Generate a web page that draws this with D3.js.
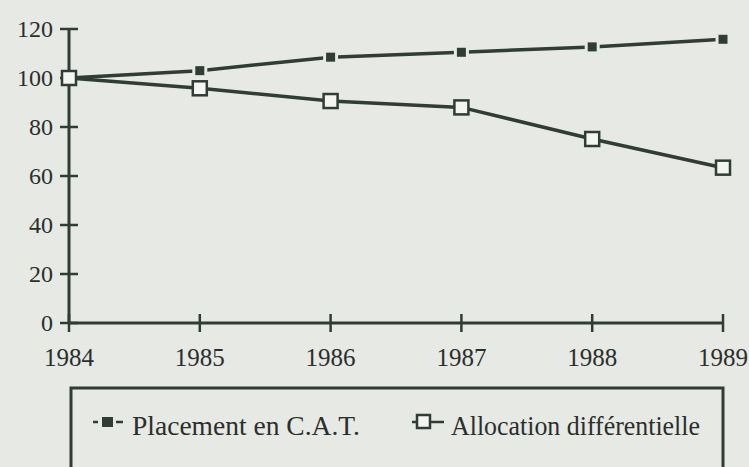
<!DOCTYPE html>
<html>
<head>
<meta charset="utf-8">
<script src="https://cdn.jsdelivr.net/npm/d3@7"></script>
<style>
  html, body { margin: 0; padding: 0; background: #e6e9e4; }
  #canvas { width: 749px; height: 467px; }
  text { font-family: "Liberation Serif", "Times New Roman", Times, serif; fill: #2b2f2c; }
</style>
</head>
<body>
<div id="canvas"></div>
<script>
const years = [1984, 1985, 1986, 1987, 1988, 1989];
const placement = [100, 103, 108.5, 110.5, 112.7, 115.8];
const allocation = [100, 95.8, 90.6, 88, 75.1, 63.4];
const yTicks = [0, 20, 40, 60, 80, 100, 120];
const seriesNames = ["Placement en C.A.T.", "Allocation différentielle"];

const w = 749, h = 467;
const ink = "#2f3d36";
const bg = "#e6e9e4";
const paper = "#f4f5f2";

let svg = d3.select("#canvas")
            .append("svg")
                .attr("width", w)
                .attr("height", h)
                .attr("viewBox", [0, 0, w, h]);

let x = d3.scaleLinear().domain([1984, 1989]).range([69, 723]);
let y = d3.scaleLinear().domain([0, 120]).range([323, 29]);

// y axis
let gY = svg.append("g");
gY.append("line")
    .attr("x1", x(1984)).attr("x2", x(1984))
    .attr("y1", y(120)).attr("y2", y(0))
    .attr("stroke", ink).attr("stroke-width", 3);
gY.selectAll(".yt")
    .data(yTicks)
  .enter().append("line")
    .attr("x1", x(1984) - 9).attr("x2", x(1984) + 9)
    .attr("y1", d => y(d)).attr("y2", d => y(d))
    .attr("stroke", ink).attr("stroke-width", 2.5);
gY.selectAll("text")
    .data(yTicks)
  .enter().append("text")
    .attr("x", x(1984) - 16)
    .attr("y", d => y(d))
    .attr("dy", "0.33em")
    .attr("text-anchor", "end")
    .attr("font-size", 24)
    .text(d => d);

// x axis
let gX = svg.append("g");
gX.append("line")
    .attr("x1", x(1984)).attr("x2", x(1989))
    .attr("y1", y(0)).attr("y2", y(0))
    .attr("stroke", ink).attr("stroke-width", 3);
gX.selectAll(".xt")
    .data(years)
  .enter().append("line")
    .attr("x1", d => x(d)).attr("x2", d => x(d))
    .attr("y1", y(0) - 9).attr("y2", y(0) + 9)
    .attr("stroke", ink).attr("stroke-width", 2.5);
gX.selectAll("text")
    .data(years)
  .enter().append("text")
    .attr("x", d => x(d))
    .attr("y", 366)
    .attr("text-anchor", "middle")
    .attr("font-size", 25)
    .text(d => d);

let line = d3.line()
    .x((d, i) => x(years[i]))
    .y(d => y(d));

// lines
svg.append("path")
    .datum(placement)
    .attr("d", line)
    .attr("fill", "none")
    .attr("stroke", ink)
    .attr("stroke-width", 3.5);
svg.append("path")
    .datum(allocation)
    .attr("d", line)
    .attr("fill", "none")
    .attr("stroke", ink)
    .attr("stroke-width", 3.5);

// filled markers with small gap around them
svg.selectAll(".pm")
    .data(placement)
  .enter().append("rect")
    .attr("x", (d, i) => x(years[i]) - 6)
    .attr("y", d => y(d) - 6)
    .attr("width", 12).attr("height", 12)
    .attr("fill", ink)
    .attr("stroke", bg)
    .attr("stroke-width", 3);

// open markers
svg.selectAll(".am")
    .data(allocation)
  .enter().append("rect")
    .attr("x", (d, i) => x(years[i]) - 7)
    .attr("y", d => y(d) - 7)
    .attr("width", 14).attr("height", 14)
    .attr("fill", paper)
    .attr("stroke", ink)
    .attr("stroke-width", 2.5);

// legend box
let lg = svg.append("g");
lg.append("rect")
    .attr("x", 71).attr("y", 388)
    .attr("width", 652).attr("height", 100)
    .attr("fill", "none")
    .attr("stroke", ink)
    .attr("stroke-width", 3);

const ly = 422;

// legend: placement
lg.append("line")
    .attr("x1", 93).attr("x2", 98).attr("y1", ly).attr("y2", ly)
    .attr("stroke", ink).attr("stroke-width", 2.5);
lg.append("line")
    .attr("x1", 116).attr("x2", 123).attr("y1", ly).attr("y2", ly)
    .attr("stroke", ink).attr("stroke-width", 2.5);
lg.append("rect")
    .attr("x", 102).attr("y", ly - 5).attr("width", 11).attr("height", 10)
    .attr("fill", ink);
lg.append("text")
    .attr("x", 132).attr("y", 435)
    .attr("font-size", 27)
    .attr("textLength", 228)
    .attr("lengthAdjust", "spacingAndGlyphs")
    .text(seriesNames[0]);

// legend: allocation
lg.append("line")
    .attr("x1", 412).attr("x2", 444).attr("y1", ly).attr("y2", ly)
    .attr("stroke", ink).attr("stroke-width", 2.5);
lg.append("rect")
    .attr("x", 417).attr("y", ly - 7).attr("width", 13).attr("height", 13)
    .attr("fill", paper)
    .attr("stroke", ink).attr("stroke-width", 2.5);
lg.append("text")
    .attr("x", 451).attr("y", 435)
    .attr("font-size", 27)
    .attr("textLength", 249)
    .attr("lengthAdjust", "spacingAndGlyphs")
    .text(seriesNames[1]);
</script>
</body>
</html>
